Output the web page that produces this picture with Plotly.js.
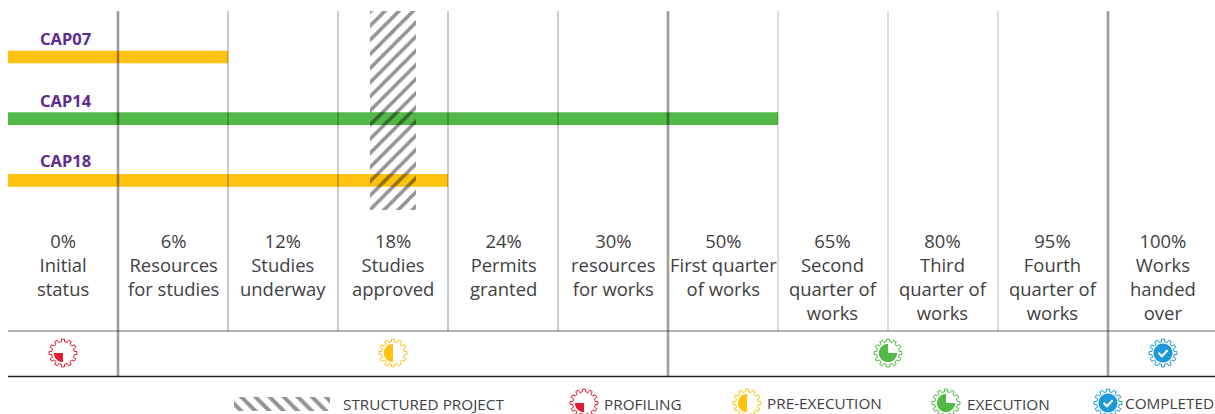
<!DOCTYPE html>
<html><head><meta charset="utf-8">
<script src="https://cdn.plot.ly/plotly-3.0.1.min.js"></script>
<style>html,body{margin:0;padding:0;background:#fff;overflow:hidden}</style>
</head><body><div id="chart" style="width:1215px;height:414px"></div>
<script>
// ---- data ----
const projects = ["CAP07","CAP14","CAP18"];
const stagesReached = [2,7,4];
const phases = ["pre","exec","pre"];
const stagePct = ["0%","6%","12%","18%","24%","30%","50%","65%","80%","95%","100%"];
const stageNames = ["Initial<br>status","Resources<br>for studies","Studies<br>underway","Studies<br>approved","Permits<br>granted","resources<br>for works","First quarter<br>of works","Second<br>quarter of<br>works","Third<br>quarter of<br>works","Fourth<br>quarter of<br>works","Works<br>handed<br>over"];
const structuredStage = [3];
const legendNames = ["STRUCTURED PROJECT","PROFILING","PRE-EXECUTION","EXECUTION","COMPLETED"];
// ---- layout constants ----
const W=1215,H=414,X0=8,CW=110;
const xr=[(0-X0)/CW,(W-X0)/CW];
const toX=px=>(px-X0)/CW;
const rowY=[57,118.7,180.3];
const colors={pre:"#FFC20E",exec:"#52B848",prof:"#E31B2F",done:"#1C9BD8"};
const sans="'Open Sans', Lato, sans-serif";
const traces=[];
traces.push({type:"bar",orientation:"h",y:rowY,x:stagesReached,base:0,width:12.7,
  marker:{color:phases.map(p=>colors[p]),line:{width:0}},text:projects,textposition:"none",hoverinfo:"text"});
traces.push({type:"bar",x:structuredStage.map(s=>s+0.5),y:[199],base:[11],width:[46/CW],
  marker:{color:"rgba(0,0,0,0)",line:{width:0},pattern:{shape:"/",fgcolor:"#000",fgopacity:0.42,bgcolor:"rgba(0,0,0,0)",size:10,solidity:0.35,fillmode:"overlay"}},hoverinfo:"skip"});
traces.push({type:"bar",x:[toX(282)],y:[14],base:[397],width:[96/CW],
  marker:{color:"rgba(0,0,0,0)",line:{width:0},pattern:{shape:"\\",fgcolor:"#000",fgopacity:0.42,bgcolor:"rgba(0,0,0,0)",size:10,solidity:0.4,fillmode:"overlay"}},hoverinfo:"skip"});
const shapes=[];
const line=(x0,y0,x1,y1,c,w)=>shapes.push({type:"line",xref:"x",yref:"y",x0,y0,x1,y1,line:{color:c,width:w},layer:"above"});
// horizontal rules
line(toX(8),331,toX(W),331,"#b1b3b6",2);
line(toX(8),376.5,toX(W),376.5,"#222",1.5);
// stage lines
[2,3,4,5].forEach(i=>line(i,11,i,331,"rgba(0,0,0,0.42)",1));
[7,8,9].forEach(i=>line(i,11,i,331,"rgba(0,0,0,0.22)",1.2));
[1,6,10].forEach(i=>line(i,11,i,376,"rgba(0,0,0,0.38)",2.6));
// gears
function gear(cx,cy,r,c,w){
  const teeth=12,ro=r,ri=r*0.8;let d="";
  for(let i=0;i<teeth;i++){
    const a=i/teeth*2*Math.PI-Math.PI/2,s=2*Math.PI/teeth;
    const pts=[[ri,a-s*.5],[ri,a-s*.28],[ro,a-s*.2],[ro,a+s*.2],[ri,a+s*.28]];
    pts.forEach((p,j)=>{d+=(i==0&&j==0?"M":"L")+(p[0]*Math.cos(p[1])).toFixed(2)+","+(p[0]*Math.sin(p[1])).toFixed(2)+" ";});
  }
  d+="Z";
  shapes.push({type:"path",xsizemode:"pixel",ysizemode:"pixel",xanchor:toX(cx),yanchor:cy,xref:"x",yref:"y",path:d,line:{color:c,width:w},fillcolor:"rgba(0,0,0,0)",layer:"above"});
}
function sector(cx,cy,r,a0,a1,c){
  let d="M0,0 ";
  for(let k=0;k<=24;k++){const a=(a0+(a1-a0)*k/24)*Math.PI/180;d+="L"+(r*Math.sin(a)).toFixed(2)+","+(r*Math.cos(a)).toFixed(2)+" ";}
  d+="Z";
  shapes.push({type:"path",xsizemode:"pixel",ysizemode:"pixel",xanchor:toX(cx),yanchor:cy,xref:"x",yref:"y",path:d,line:{width:0},fillcolor:c,layer:"above"});
}
function icon(kind,cx,cy,r){
  const c=colors[kind];gear(cx,cy,r,c,1);
  const s=r*0.65;
  if(kind=="prof")sector(cx,cy,s,180,270,c);
  if(kind=="pre")sector(cx,cy,s,180,360,c);
  if(kind=="exec")sector(cx,cy,s,90,360,c);
  if(kind=="done"){
    sector(cx,cy,s*1.05,0,360,c);
    shapes.push({type:"path",xsizemode:"pixel",ysizemode:"pixel",xanchor:toX(cx),yanchor:cy,xref:"x",yref:"y",
      path:`M${-s*.5},${s*.02} L${-s*.12},${-s*.36} L${s*.5},${s*.3}`,line:{color:"#fff",width:2},fillcolor:"rgba(0,0,0,0)",layer:"above"});
  }
}
icon("prof",63,353,14);icon("pre",393,353,14);icon("exec",888,353,14);icon("done",1163,353,14);
icon("prof",584,403,14);icon("pre",747,403,14);icon("exec",946,403,14);icon("done",1108,403,14);
// annotations
const annotations=[];
const note=(x,y,text,size,color,anchor,family)=>annotations.push({xref:"x",yref:"y",x,y,text,showarrow:false,xanchor:anchor,yanchor:"top",align:anchor=="left"?"left":"center",font:{size,color,family},borderpad:0,borderwidth:0});
projects.forEach((p,i)=>note(toX(65.5),[27,89,149][i],"<b>"+p+"</b>",16.5,"#5F2D91","center","'Noto Sans', sans-serif"));
stagePct.forEach((p,i)=>note(i+0.5,228,p+"<br>"+stageNames[i],18.46,"#414042","center",sans));
const lgY=[394,394,393,394,393],lgX=[343,604,767,967,1125];
legendNames.forEach((n,i)=>note(toX(lgX[i]),lgY[i],n,15.3,"#414042","left","'Open Sans', sans-serif"));
const layout={width:W,height:H,margin:{l:0,r:0,t:0,b:0,pad:0},paper_bgcolor:"#fff",plot_bgcolor:"#fff",showlegend:false,barmode:"overlay",
  xaxis:{range:xr,visible:false,fixedrange:true},yaxis:{range:[H,0],visible:false,fixedrange:true},shapes,annotations};
Plotly.newPlot("chart",traces,layout,{displayModeBar:false,staticPlot:true});
</script></body></html>
